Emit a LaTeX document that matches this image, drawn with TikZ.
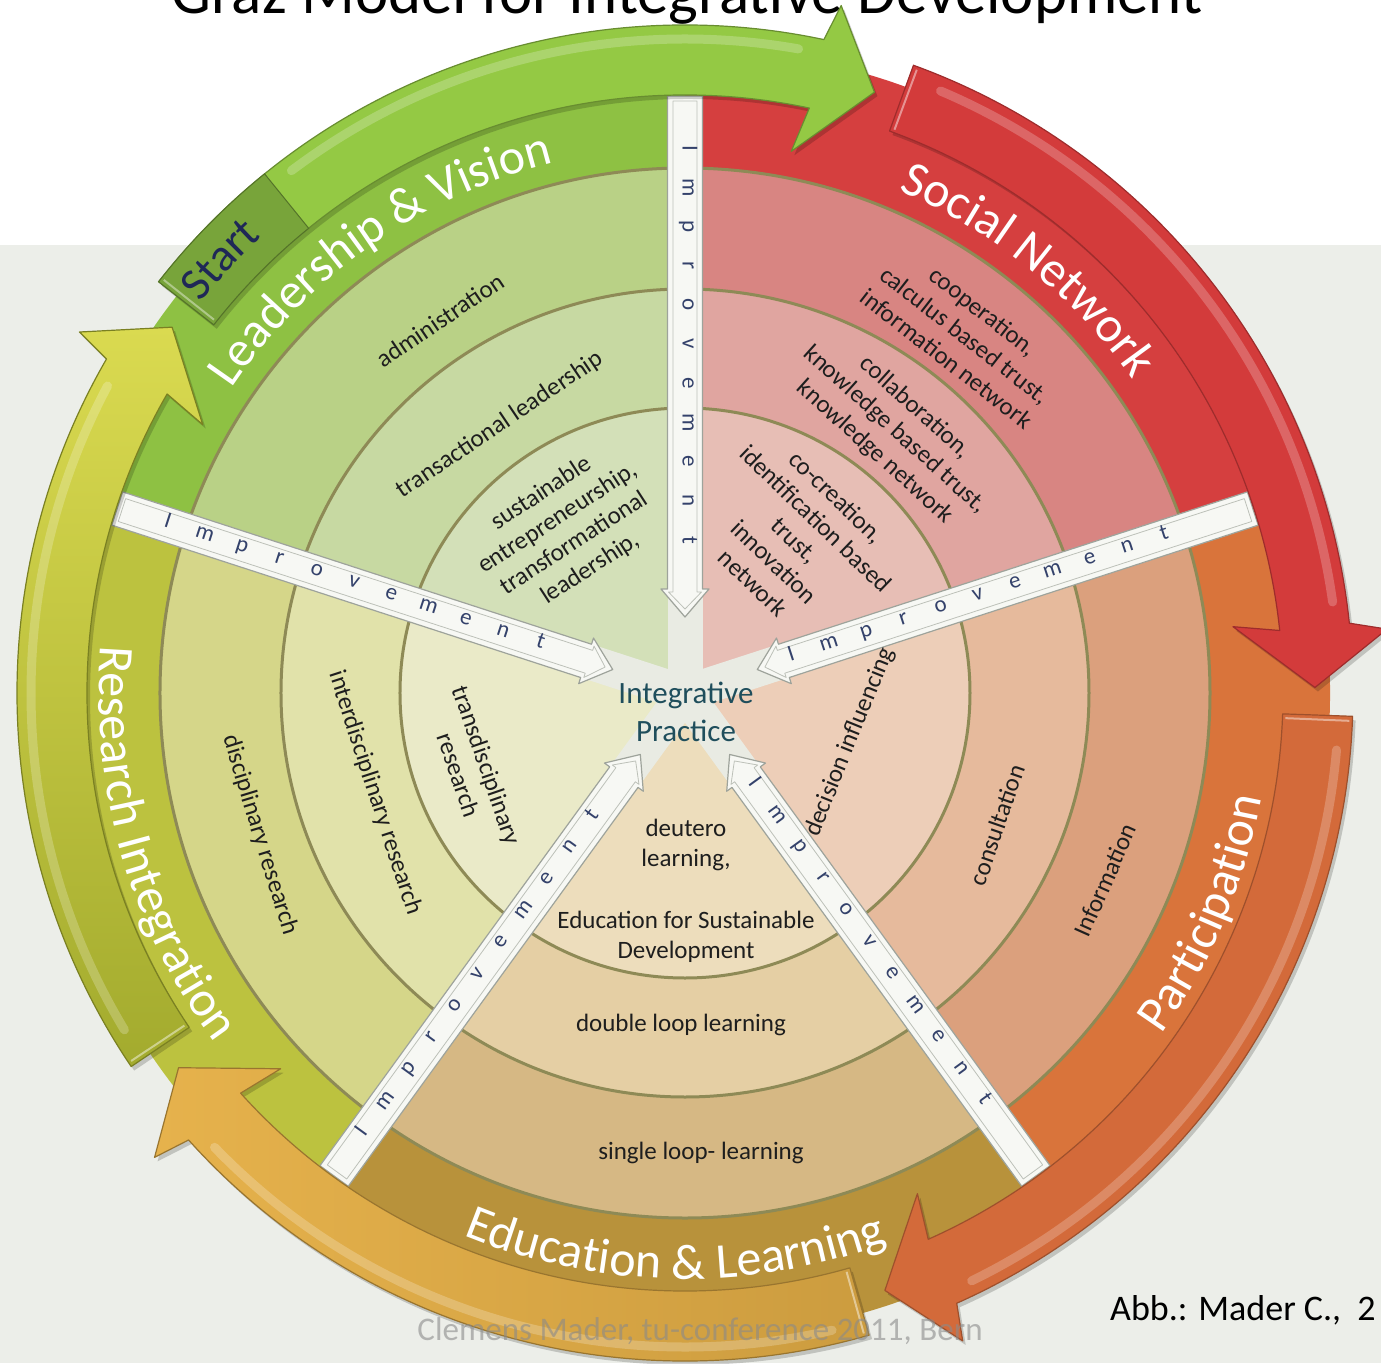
\documentclass[tikz,border=0pt]{standalone}
\usepackage{fontspec}
\setmainfont{Carlito}
\usetikzlibrary{decorations.text}
\definecolor{panel}{HTML}{ECEEE9}
\definecolor{gapcol}{HTML}{E9EBE3}
\definecolor{barfill}{HTML}{F7F8F4}
\definecolor{barline}{HTML}{9EA39B}
\definecolor{barinner}{HTML}{BDC1B9}
\definecolor{impcol}{HTML}{34426B}
\definecolor{ringcol}{HTML}{8E8A56}
\definecolor{ipcol}{HTML}{1F4E5C}
\definecolor{txtcol}{HTML}{1E1E1E}
\definecolor{Lt}{HTML}{8EC143}
\definecolor{Lc}{HTML}{B9D186}
\definecolor{Lb}{HTML}{C7D9A2}
\definecolor{La}{HTML}{D3E0B8}
\definecolor{St}{HTML}{D53F3F}
\definecolor{Sc}{HTML}{D88582}
\definecolor{Sb}{HTML}{E0A5A0}
\definecolor{Sa}{HTML}{E7BEB5}
\definecolor{Pt}{HTML}{D9743B}
\definecolor{Pc}{HTML}{DBA07D}
\definecolor{Pb}{HTML}{E6BA9C}
\definecolor{Pa}{HTML}{EDCEB8}
\definecolor{Et}{HTML}{B8923B}
\definecolor{Ec}{HTML}{D6B884}
\definecolor{Eb}{HTML}{E5CFA4}
\definecolor{Ea}{HTML}{EDDDBC}
\definecolor{Rt}{HTML}{BCC23F}
\definecolor{Rc}{HTML}{D5D689}
\definecolor{Rb}{HTML}{E1E2AA}
\definecolor{Ra}{HTML}{EAEAC8}
\definecolor{agreen}{HTML}{94C944}
\definecolor{astart}{HTML}{78A43A}
\definecolor{ared}{HTML}{D33B3B}
\definecolor{aorange}{HTML}{D36A3A}
\definecolor{agoldA}{HTML}{E6B24C}
\definecolor{agoldB}{HTML}{CC9C3F}
\definecolor{aoliveA}{HTML}{DADA50}
\definecolor{aoliveB}{HTML}{A3AB2E}
\definecolor{startcol}{HTML}{1F2857}
\definecolor{credit}{HTML}{8A8A8A}

\newcommand\gmwedge[5]{%
  \fill[#2] (0,0) -- (#1:645) arc[start angle=#1, delta angle=72, radius=645] -- cycle;
  \fill[#3] (0,0) -- (#1:525) arc[start angle=#1, delta angle=72, radius=525] -- cycle;
  \fill[#4] (0,0) -- (#1:404) arc[start angle=#1, delta angle=72, radius=404] -- cycle;
  \fill[#5] (0,0) -- (#1:285) arc[start angle=#1, delta angle=72, radius=285] -- cycle;
}
\newcommand\gmapath[3]{(#1:598) -- (#1:668) arc[start angle=#1, end angle=#2, radius=668] -- ({#2-0.8}:705) -- (#3:630) -- ({#2+0.9}:552) -- (#2:598) arc[start angle=#2, end angle=#1, radius=598] -- cycle}
\newcommand\gmtab[2]{(#1:598) -- (#1:668) arc[start angle=#1, end angle=#2, radius=668] -- (#2:598) arc[start angle=#2, end angle=#1, radius=598] -- cycle}
\newcommand\gmshine[2]{(#1:654) arc[start angle=#1, end angle=#2, radius=654]}
\newcommand\gmtitlefont{\fontsize{50}{60}\selectfont}
\newcommand\gmstartfont{\fontsize{46}{55}\selectfont}

\tikzset{
  ringstyle/.style={draw=ringcol, line width=3},
  ctext/.style={font=\fontsize{25}{30}\selectfont, text=txtcol, align=center, inner sep=0},
  imp/.style={font=\fontsize{23}{23}\selectfont, text=impcol, inner sep=0, text height=0.5em, text depth=0pt},
  arrowline/.style={line width=1.2, line join=round},
  shadowstyle/.style={black, opacity=0.18, shift={(3,-4)}},
  shine/.style={white, opacity=0.22, line width=9, line cap=round},
}

\begin{document}
\begin{tikzpicture}[x=1pt,y=1pt]
\useasboundingbox (-685,-670) rectangle (696,693);
\clip (-685,-670) rectangle (696,693);
\fill[white] (-685,-670) rectangle (696,693);
\fill[panel] (-685,-670) rectangle (696,448);

\node[anchor=base, font=\fontsize{63}{70}\selectfont] (title) at (2,679) {Graz Model for Integrative Development};

% wedges
\gmwedge{90}{Lt}{Lc}{Lb}{La}
\gmwedge{18}{St}{Sc}{Sb}{Sa}
\gmwedge{306}{Pt}{Pc}{Pb}{Pa}
\gmwedge{234}{Et}{Ec}{Eb}{Ea}
\gmwedge{162}{Rt}{Rc}{Rb}{Ra}

\foreach \r in {285,404,525} \draw[ringstyle] (0,0) circle[radius=\r];

% improvement bars
\foreach \a in {90,162,234,306,18} {
  \begin{scope}[rotate=\a]
    \fill[gapcol] (0,-17.5) rectangle (597,17.5);
    \filldraw[fill=barfill, draw=barline, line width=1.2, line join=round] (597,17.5) -- (104,17.5) -- (104,24) -- (76,0) -- (104,-24) -- (104,-17.5) -- (597,-17.5) -- cycle;
    \draw[barinner, line width=0.8, line join=round] (592,12) -- (101,12) -- (101,16.5) -- (84,0) -- (101,-16.5) -- (101,-12) -- (592,-12) -- cycle;
  \end{scope}
}
\foreach \ch [count=\i] in {I,m,p,r,o,v,e,m,e,n,t} {
  \pgfmathsetmacro\rin{545-(\i-1)*39.2}
  \pgfmathsetmacro\rout{113+(\i-1)*39.2}
  \node[imp, rotate=-90] (ia\i) at (90:\rin) {\ch};
  \node[imp, rotate=-18] (ib\i) at (162:\rin) {\ch};
  \node[imp, rotate=54] (ic\i) at (234:\rin) {\ch};
  \node[imp, rotate=18] (id\i) at (18:\rout) {\ch};
  \node[imp, rotate=-54] (ie\i) at (306:\rout) {\ch};
}

% outer arrows (olive, gold, orange, red, green)
\fill[shadowstyle] \gmapath{214}{150}{144.5};
\shade[top color=aoliveA, bottom color=aoliveB] \gmapath{214}{150}{144.5};
\draw[shine] \gmshine{211}{152};
\draw[aoliveB!75!black, arrowline] \gmapath{214}{150}{144.5};
\draw[white, opacity=0.45, line width=2] (213.6:601) -- (213.6:665);

\fill[shadowstyle] \gmapath{-74}{-138}{-143.5};
\shade[left color=agoldA, right color=agoldB] \gmapath{-74}{-138}{-143.5};
\draw[shine] \gmshine{-77}{-136};
\draw[agoldB!75!black, arrowline] \gmapath{-74}{-138}{-143.5};
\draw[white, opacity=0.45, line width=2] (-74.4:601) -- (-74.4:665);

\fill[shadowstyle] \gmapath{-2}{-66}{-71.5};
\fill[aorange] \gmapath{-2}{-66}{-71.5};
\draw[shine] \gmshine{-5}{-64};
\draw[aorange!75!black, arrowline] \gmapath{-2}{-66}{-71.5};
\draw[white, opacity=0.45, line width=2] (-2.4:601) -- (-2.4:665);

\fill[shadowstyle] \gmapath{70}{6}{0.5};
\fill[ared] \gmapath{70}{6}{0.5};
\draw[shine] \gmshine{67}{8};
\draw[ared!75!black, arrowline] \gmapath{70}{6}{0.5};
\draw[white, opacity=0.45, line width=2] (69.6:601) -- (69.6:665);

\fill[shadowstyle] \gmapath{142}{78}{72.5};
\fill[agreen] \gmapath{142}{78}{72.5};
\draw[shine] \gmshine{127}{80};
\draw[agreen!70!black, arrowline] \gmapath{142}{78}{72.5};
\fill[astart] \gmtab{142}{129};
\draw[astart!70!black, line width=1] \gmtab{142}{129};
\draw[white, opacity=0.4, line width=2] (141.6:601) -- (141.6:665);

% titles along arcs
\path[decorate, decoration={text along path, text align=center, text color=white, text={|\gmtitlefont|Leadership {\&} Vision}}] (160:546) arc[start angle=160, end angle=90, radius=546];
\path[decorate, decoration={text along path, text align=center, text color=white, text={|\gmtitlefont|Social Network}}] (86:546) arc[start angle=86, end angle=16, radius=546];
\path[decorate, decoration={text along path, text align=center, text color=white, text={|\gmtitlefont|Participation}}] (-58:586) arc[start angle=-58, end angle=12, radius=586];
\path[decorate, decoration={text along path, text align=center, text color=white, text={|\gmtitlefont|Education {\&} Learning}}] (-126:586) arc[start angle=-126, end angle=-56, radius=586];
\path[decorate, decoration={text along path, text align=center, text color=white, text={|\gmtitlefont|Research Integration}}] (160:586) arc[start angle=160, end angle=232, radius=586];
\path[decorate, decoration={text along path, text align=center, text color=startcol, text={|\gmstartfont|Start}}] (160:622) arc[start angle=160, end angle=114, radius=622];

% content texts
\node[ctext, rotate=34] (adm) at (-245,373) {administration};
\node[ctext, rotate=34] (tra) at (-185,268) {transactional leadership};
\node[ctext, rotate=33] (sus) at (-119,162) {sustainable\\entrepreneurship,\\transformational\\leadership,};
\node[ctext, rotate=-38] (coo) at (280,358) {cooperation,\\calculus based trust,\\information network};
\node[ctext, rotate=-42] (col) at (210,263) {collaboration,\\knowledge based trust,\\knowledge network};
\node[ctext, rotate=-44] (cre) at (110,153) {co-creation,\\identification based\\trust,\\innovation\\network};
\node[ctext, rotate=-73] (dis) at (-425,-142) {disciplinary research};
\node[ctext, rotate=-72] (int) at (-310,-100) {interdisciplinary research};
\node[ctext, rotate=-71] (trd) at (-212,-77) {transdisciplinary\\research};
\node[ctext, rotate=68] (dec) at (165,-49) {decision influencing};
\node[ctext, rotate=71] (con) at (312,-132) {consultation};
\node[ctext, rotate=66] (inf) at (420,-187) {Information};
\node[ctext] (deu) at (1,-152) {deutero\\learning,};
\node[ctext] (esd) at (1,-244) {Education for Sustainable\\Development};
\node[ctext] (dll) at (-4,-332) {double loop learning};
\node[ctext] (sll) at (16,-460) {single loop- learning};
\node[font=\fontsize{31}{38}\selectfont, text=ipcol, align=center, inner sep=0] (ip) at (1,-19) {Integrative\\Practice};

% credits
\node[anchor=base, font=\fontsize{33}{40}\selectfont, text=credit, opacity=0.6] (cred) at (15,-647) {Clemens Mader, tu-conference 2011, Bern};
\node[anchor=base west, font=\fontsize{36}{42}\selectfont, inner sep=0] (abb) at (425,-627) {Abb.: Mader C.,~ 2};
\end{tikzpicture}
\end{document}
